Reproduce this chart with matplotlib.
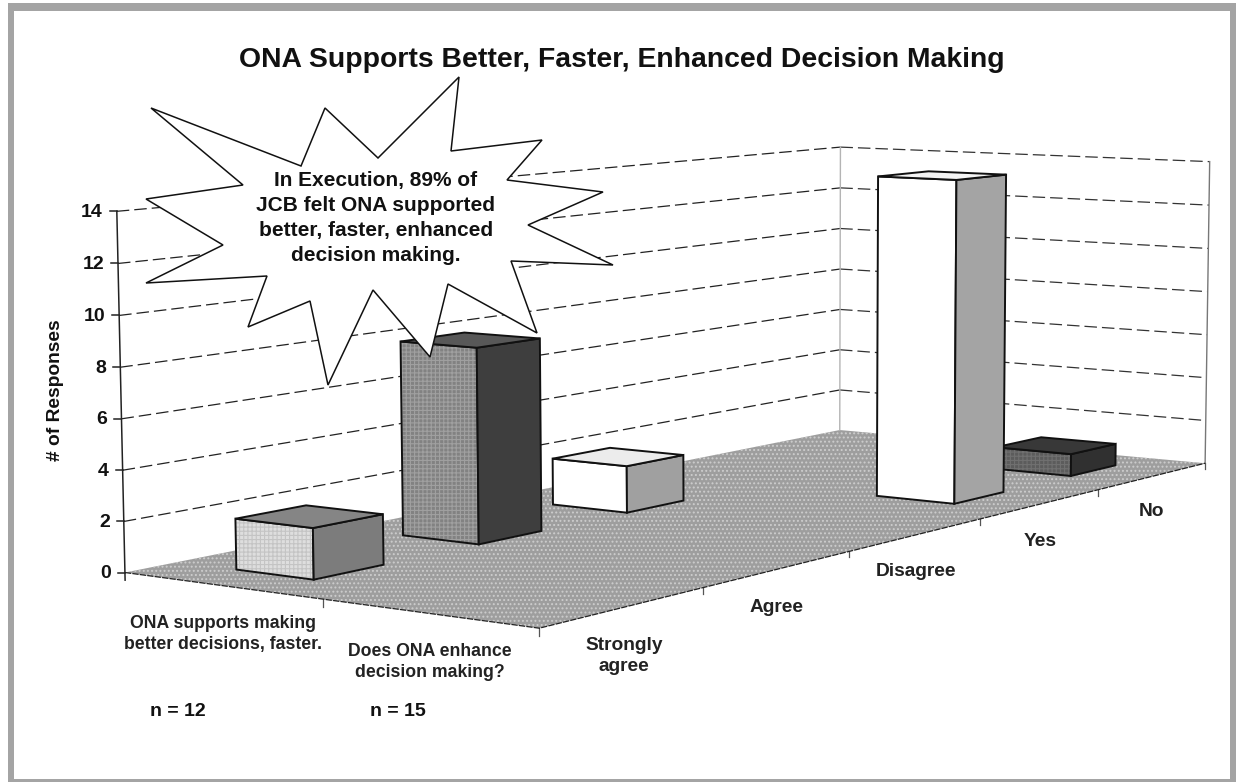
import numpy as np
import matplotlib
matplotlib.use('Agg')
import matplotlib.pyplot as plt
from matplotlib.patches import Polygon, Rectangle

plt.rcParams['font.family'] = ['Liberation Sans', 'DejaVu Sans']

# -------------------------- data --------------------------
questions = ['ONA supports making\nbetter decisions, faster.', 'Does ONA enhance\ndecision making?']
answers = ['Strongly\nagree', 'Agree', 'Disagree', 'Yes', 'No']
ona_supports = [2, 8, 2, 0, 0]
ona_enhances = [0, 0, 0, 14, 1]
sample_sizes = ['n = 12', 'n = 15']
y_ticks = [0, 2, 4, 6, 8, 10, 12, 14]

title = 'ONA Supports Better, Faster, Enhanced Decision Making'
callout = 'In Execution, 89% of\nJCB felt ONA supported\nbetter, faster, enhanced\ndecision making.'
y_label = '# of Responses'

# front, side, top colour of the bars of each answer
front_colors = ['#dedede', '#828282', '#ffffff', '#ffffff', '#5c5c5c']
side_colors = ['#7c7c7c', '#3e3e3e', '#a0a0a0', '#a4a4a4', '#303030']
top_colors = ['#858585', '#585858', '#ececec', '#f4f4f4', '#383838']
hatch_colors = ['#c4c4c4', '#a0a0a0', None, None, '#707070']

# -------------------------- layout --------------------------
# (question axis 0-1, answer axis 0-1, value) -> pixel, for fitting the 3D view
view_from = [(0, 0, 0), (1, 0, 0), (1, 1, 0), (0, 1, 0), (0, 0, 14), (0, 1, 14), (1, 1, 14)]
view_to = [(125, 573), (539, 628), (1205, 463), (840, 430), (117, 211), (840, 147), (1210, 162)]

star_x = [151, 301, 325, 378, 459, 451, 542, 507, 603, 528, 613, 511, 537, 448, 430, 373, 328, 310, 248, 267, 146, 223, 146, 243]
star_y = [108, 166, 108, 158, 77, 151, 140, 180, 192, 225, 265, 261, 333, 284, 357, 290, 385, 301, 327, 276, 283, 245, 199, 185]

question_label_pos = [(223, 634), (430, 662)]
n_label_pos = [(178, 712), (398, 712)]
answer_label_pos = [(624, 656), (777, 607), (916, 571), (1040, 541), (1152, 512)]

bar_half_u = 0.098
bar_half_v = 0.041


def fit_view(src, dst):
    # plain DLT fit of a 3x4 projection matrix
    rows = []
    for (a, b, c), (x, y) in zip(src, dst):
        rows.append([a, b, c, 1, 0, 0, 0, 0, -x * a, -x * b, -x * c, -x])
        rows.append([0, 0, 0, 0, a, b, c, 1, -y * a, -y * b, -y * c, -y])
    _, _, vt = np.linalg.svd(np.array(rows, dtype=float))
    return vt[-1].reshape(3, 4)


view = fit_view(view_from, view_to)


def project(u, v, z):
    p = view @ np.array([u, v, z, 1.0])
    return p[0] / p[2], p[1] / p[2]


def draw_face(ax, pts, color, hatch_color=None, z=3):
    if hatch_color:
        ax.add_patch(Polygon(pts, closed=True, facecolor=color, hatch='++++', edgecolor=hatch_color, lw=0, zorder=z))
    else:
        ax.add_patch(Polygon(pts, closed=True, facecolor=color, edgecolor='none', zorder=z))
    ax.add_patch(Polygon(pts, closed=True, fill=False, edgecolor='#111111', lw=1.4, joinstyle='miter', zorder=z))


def draw_bar(ax, question, answer, value, z):
    u = (question + 0.5) / len(questions)
    v = (answer + 0.5) / len(answers)
    u0, u1 = u - bar_half_u, u + bar_half_u
    v0, v1 = v - bar_half_v, v + bar_half_v
    front = [project(u0, v0, 0), project(u1, v0, 0), project(u1, v0, value), project(u0, v0, value)]
    side = [project(u1, v0, 0), project(u1, v1, 0), project(u1, v1, value), project(u1, v0, value)]
    top = [project(u0, v0, value), project(u1, v0, value), project(u1, v1, value), project(u0, v1, value)]
    draw_face(ax, front, front_colors[answer], hatch_colors[answer], z)
    draw_face(ax, side, side_colors[answer], None, z)
    draw_face(ax, top, top_colors[answer], None, z)


fig = plt.figure(figsize=(12.36, 7.82), dpi=100, facecolor='white')
ax = fig.add_axes([0, 0, 1, 1])
ax.set_xlim(0, 1236)
ax.set_ylim(782, 0)
ax.axis('off')

# frame of the slide
for box in [(8, 3, 1228, 8), (8, 3, 6, 779), (1230, 3, 6, 779), (8, 779, 1228, 3)]:
    ax.add_patch(Rectangle(box[:2], box[2], box[3], facecolor='#a4a4a4', edgecolor='none', zorder=1))

# floor
plt.rcParams['hatch.linewidth'] = 0.9
floor = [project(0, 0, 0), project(1, 0, 0), project(1, 1, 0), project(0, 1, 0)]
ax.add_patch(Polygon(floor, closed=True, facecolor='#9e9e9e', hatch='....', edgecolor='#cdcdcd', lw=0, zorder=2))
plt.rcParams['hatch.linewidth'] = 0.8
edge = [project(0, 0, 0), project(1, 0, 0), project(1, 1, 0)]
ax.plot(*zip(*edge), color='#222222', lw=0.9, ls=(0, (5, 1)), zorder=2.1)

# walls
for t in y_ticks[1:]:
    ax.plot(*zip(project(0, 0, t), project(0, 1, t)), color='#222222', lw=0.9, ls=(0, (10, 4)), zorder=2)
    ax.plot(*zip(project(0, 1, t), project(1, 1, t)), color='#333333', lw=0.9, ls=(0, (10, 4)), zorder=2)
ax.plot(*zip(project(0, 1, 0), project(0, 1, 14)), color='#b4b4b4', lw=1, zorder=2)
ax.plot(*zip(project(1, 1, 0), project(1, 1, 14)), color='#777777', lw=1, zorder=2)

# value axis
ax.plot(*zip(project(0, 0, -0.3), project(0, 0, 14)), color='#222222', lw=1.1, zorder=2.2)
for t in y_ticks:
    x, y = project(0, 0, t)
    ax.plot([x - 7, x], [y, y], color='#222222', lw=1.1, zorder=2.2)
    ax.text(x - 14, y + 1, str(t), ha='right', va='center', fontsize=14, fontweight='bold', color='#111111')
ax.text(55, 390, y_label, rotation=90, ha='center', va='center', fontsize=13.8, fontweight='bold', color='#111111')

# ticks on the floor edges
for u in [0.5, 1]:
    x, y = project(u, 0, 0)
    ax.plot([x, x], [y, y + 8], color='#555555', lw=0.9, zorder=2)
for k in range(1, len(answers) + 1):
    x, y = project(1, k / len(answers), 0)
    ax.plot([x, x], [y, y + 6], color='#555555', lw=0.9, zorder=2)

# bars, back ones first
z = 3.0
for answer in range(len(answers) - 1, -1, -1):
    for question, values in ((1, ona_enhances), (0, ona_supports)):
        if values[answer] > 0:
            draw_bar(ax, question, answer, values[answer], z)
            z += 0.1

# callout
ax.add_patch(Polygon(list(zip(star_x, star_y)), closed=True, facecolor='white', edgecolor='#111111', lw=1.1, zorder=6))
ax.text(376, 218, callout, ha='center', va='center', fontsize=15, fontweight='bold', linespacing=1.38, color='#111111', zorder=7)

# texts
ax.text(622, 60, title, ha='center', va='center', fontsize=20.4, fontweight='bold', color='#111111')
for label, (x, y) in zip(questions, question_label_pos):
    ax.text(x, y, label, ha='center', va='center', fontsize=12.7, fontweight='bold', linespacing=1.37, color='#222222')
for label, (x, y) in zip(sample_sizes, n_label_pos):
    ax.text(x, y, label, ha='center', va='center', fontsize=14, fontweight='bold', color='#111111')
for label, (x, y) in zip(answers, answer_label_pos):
    ax.text(x, y, label, ha='center', va='center', fontsize=13.8, fontweight='bold', linespacing=1.37, color='#222222')

fig.savefig('out.png', dpi=100, facecolor='white')
